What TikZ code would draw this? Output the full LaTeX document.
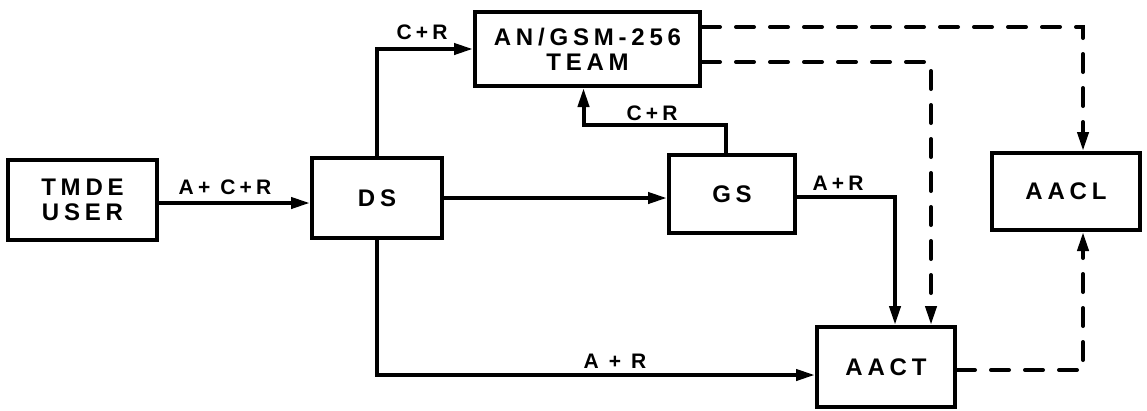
\documentclass[tikz,border=0pt]{standalone}
\usepackage{fontspec}
\newfontfamily\lettering{Liberation Sans}[LetterSpace=20]
\usetikzlibrary{positioning,arrows.meta}

\begin{document}
\begin{tikzpicture}[x=1pt, y=-1pt,
  blok/.style={rectangle, draw=black, line width=4pt, align=center, inner sep=0pt,
               font={\lettering\bfseries\fontsize{24}{25}\selectfont}},
  oznaka/.style={inner sep=0pt, font={\lettering\bfseries\fontsize{21}{22}\selectfont}},
  tok/.style={line width=4pt, -{Triangle[length=19pt,width=11pt]}},
  povrat/.style={tok, line cap=round, dash pattern=on 18pt off 16pt}
]
\useasboundingbox (0,0) rectangle (1147,410);

\node[blok, minimum width=149pt, minimum height=80pt] (user) at (82.5,200) {TMDE\\USER};
\node[blok, minimum width=130pt, minimum height=80pt] (ds) at (377,198) {DS};
\node[blok, minimum width=225pt, minimum height=74pt] (team) at (587.5,49) {AN/GSM-256\\TEAM};
\node[blok, minimum width=126pt, minimum height=78pt] (gs) at (732,194) {GS};
\node[blok, minimum width=138pt, minimum height=80pt] (aact) at (886,367) {AACT};
\node[blok, minimum width=148pt, minimum height=77pt] (aacl) at (1066,191.5) {AACL};

\draw[tok] ([yshift=-3pt]user.east) -- ([yshift=-3pt]user.east -| ds.west);
\node[oznaka] (l1) at (225,187) {A+ C+R};

\draw[tok] (ds.north) |- (team.west);
\node[oznaka] (l2) at (422,32) {C+R};

\draw[tok] (ds.east) -- (ds.east -| gs.west);

\draw[tok] ([xshift=-6pt]gs.north) -- ++(0,-28) -| ([xshift=-4pt]team.south);
\node[oznaka] (l3) at (652,113) {C+R};

\draw[tok] ([yshift=-3pt]gs.east) -| ([xshift=9pt]aact.north);
\node[oznaka] (l4) at (838,183) {A+R};

\draw[tok] (ds.south) |- ([yshift=-8pt]aact.west);
\node[oznaka] (l5) at (615,361) {A + R};

\draw[povrat] ([yshift=22pt]team.east) -| ([xshift=17pt]aacl.north);
\draw[povrat] ([yshift=-13pt]team.east) -| ([xshift=45pt]aact.north);
\draw[povrat] ([yshift=-3pt]aact.east) -| ([xshift=17pt]aacl.south);
\end{tikzpicture}
\end{document}
